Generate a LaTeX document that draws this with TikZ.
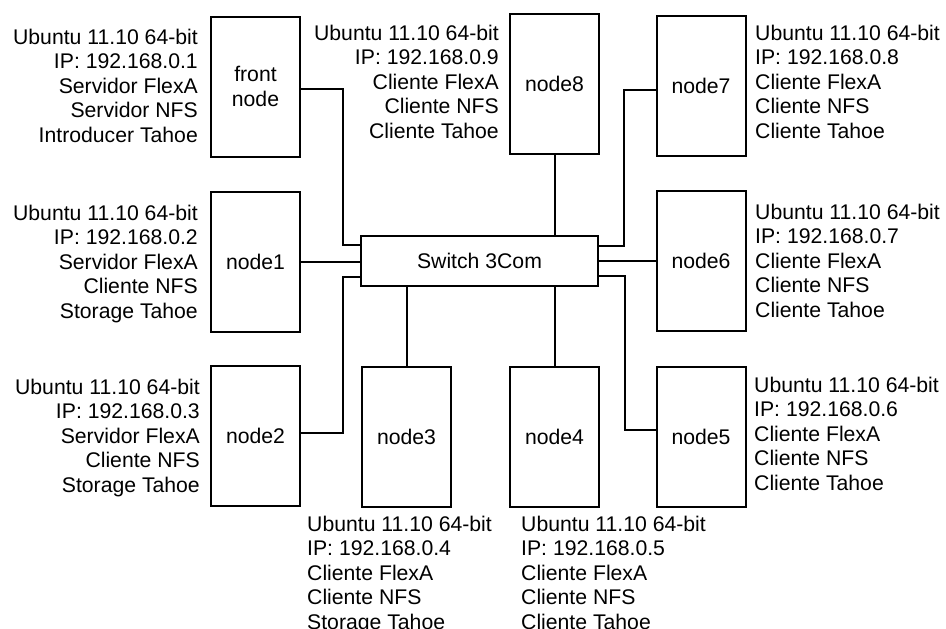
\documentclass[tikz,border=0pt]{standalone}
\usepackage{fontspec}
\setmainfont{Liberation Sans}
\begin{document}
\begin{tikzpicture}[x=1pt,y=-1pt,
  every node/.style={font=\fontsize{21.2}{24.5}\selectfont},
  box/.style={draw,line width=2pt,minimum width=89pt,minimum height=140pt,inner sep=0pt,align=center},
  lblr/.style={inner sep=0pt,anchor=north east,align=right},
  lbll/.style={inner sep=0pt,anchor=north west,align=left},
  wire/.style={line width=2pt}]
\useasboundingbox (0,0) rectangle (946,629);
% boxes
\node[box] (front) at (255.5,86.5) {front\\node};
\node[box] (node8) at (554.5,84) {node8};
\node[box] (node7) at (701,86) {node7};
\node[box] (node1) at (255.5,262) {node1};
\node[box] (node6) at (701,261) {node6};
\node[box] (node2) at (255.5,436) {node2};
\node[box] (node3) at (406.5,436.5) {node3};
\node[box] (node4) at (554.5,436.5) {node4};
\node[box] (node5) at (701,436.5) {node5};
\node[box,minimum width=237pt,minimum height=50pt] (sw) at (479.5,261) {Switch 3Com};
% labels
\node[lblr] (lfront) at (198,28.5) {Ubuntu 11.10 64-bit\\IP: 192.168.0.1\\Servidor FlexA\\Servidor NFS\\Introducer Tahoe};
\node[lblr] (l1) at (198,204.5) {Ubuntu 11.10 64-bit\\IP: 192.168.0.2\\Servidor FlexA\\Cliente NFS\\Storage Tahoe};
\node[lblr] (l2) at (200,378.5) {Ubuntu 11.10 64-bit\\IP: 192.168.0.3\\Servidor FlexA\\Cliente NFS\\Storage Tahoe};
\node[lblr] (l8) at (499,24.5) {Ubuntu 11.10 64-bit\\IP: 192.168.0.9\\Cliente FlexA\\Cliente NFS\\Cliente Tahoe};
\node[lbll] (l7) at (755,24.5) {Ubuntu 11.10 64-bit\\IP: 192.168.0.8\\Cliente FlexA\\Cliente NFS\\Cliente Tahoe};
\node[lbll] (l6) at (755,203.5) {Ubuntu 11.10 64-bit\\IP: 192.168.0.7\\Cliente FlexA\\Cliente NFS\\Cliente Tahoe};
\node[lbll] (l5) at (754,376.5) {Ubuntu 11.10 64-bit\\IP: 192.168.0.6\\Cliente FlexA\\Cliente NFS\\Cliente Tahoe};
\node[lbll] (l3) at (307,515.5) {Ubuntu 11.10 64-bit\\IP: 192.168.0.4\\Cliente FlexA\\Cliente NFS\\Storage Tahoe};
\node[lbll] (l4) at (521,515.5) {Ubuntu 11.10 64-bit\\IP: 192.168.0.5\\Cliente FlexA\\Cliente NFS\\Cliente Tahoe};
% bend points
\coordinate (bfront) at (343,245);
\coordinate (b2) at (343,277);
\coordinate (b7) at (624,246);
\coordinate (b5) at (625,276);
% wires
\draw[wire] ([yshift=-2.5pt]front.east) -| (bfront) -- (sw.west |- bfront);
\draw[wire] ([yshift=3pt]node2.east) -| (b2) -- (sw.west |- b2);
\draw[wire] ([yshift=-4pt]node7.west) -| (b7) -- (sw.east |- b7);
\draw[wire] ([yshift=6.5pt]node5.west) -| (b5) -- (sw.east |- b5);
\draw[wire] (node1.east) -- (sw.west |- node1.east);
\draw[wire] (node6.west) -- (sw.east |- node6.west);
\draw[wire] (node8.south) -- (sw.north -| node8.south);
\draw[wire] (node3.north) -- (sw.south -| node3.north);
\draw[wire] (node4.north) -- (sw.south -| node4.north);
\end{tikzpicture}
\end{document}
